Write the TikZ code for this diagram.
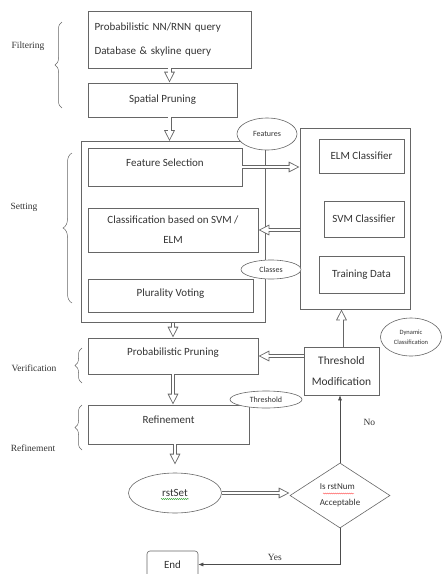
\documentclass[tikz,border=0pt]{standalone}
\usepackage{fontspec}
\setmainfont{Carlito}
\newfontfamily\sidefont{Liberation Serif}
\usetikzlibrary{arrows.meta,shapes.geometric,decorations.pathreplacing,decorations.pathmorphing}
\colorlet{strek}{black!60}
\colorlet{tekst}{black!80}
\begin{document}
\begin{tikzpicture}[x=1pt, y=-1pt,
  flowbox/.style={draw=strek, line width=0.6pt, inner sep=0pt, text=tekst, font=\fontsize{11}{20}\selectfont},
  raised/.style={text depth=#1},
  bubble/.style={ellipse, draw=strek, line width=0.6pt, fill=white, inner sep=0pt, text=tekst},
  sidelabel/.style={text=tekst, font=\sidefont\fontsize{9.5}{11}\selectfont},
  sidebrace/.style={draw=strek, line width=0.5pt, decorate, decoration={brace, amplitude=#1}},
  hollowarrow/.style={draw=strek, line width=4pt, -{Triangle[length=11pt, width=10pt]},
    postaction={draw=white, line width=2.4pt, -{Triangle[length=8.3pt, width=7.5pt]}, shorten >=1.9pt}},
  thinarrow/.style={draw=black!70, line width=0.6pt, -{Latex[length=5pt, width=4pt]}}]
  \useasboundingbox (0,0) rectangle (445,574);

  % filtrering
  \node[flowbox, minimum width=163pt, minimum height=57pt, text width=150pt, align=left,
        font=\fontsize{11}{24}\selectfont] (query) at (169.5,39.5)
        {Probabilistic NN/RNN query\\Database \& skyline query};
  \node[flowbox, minimum width=149pt, minimum height=34pt] (spatial) at (162.5,100) {Spatial Pruning};

  % oppsett: venstre ramme og klassifikatorer
  \node[flowbox, minimum width=184pt, minimum height=181pt] (setting) at (173,232) {};
  \node[flowbox, raised=9pt, minimum width=154pt, minimum height=38pt] (featsel) at (165,167) {Feature Selection};
  \node[flowbox, minimum width=170pt, minimum height=44pt, align=center] (classif) at (173,230)
        {Classification based on SVM /\\ELM};
  \node[flowbox, raised=6pt, minimum width=165pt, minimum height=33pt] (voting) at (170.5,295.5) {Plurality Voting};

  \node[flowbox, minimum width=110pt, minimum height=181pt] (classifiers) at (355,218.5) {};
  \node[flowbox, minimum width=85pt, minimum height=34pt] (elm) at (361.5,156) {ELM Classifier};
  \node[flowbox, minimum width=80pt, minimum height=36pt] (svm) at (364,219) {SVM Classifier};
  \node[flowbox, minimum width=85pt, minimum height=37pt] (train) at (361.5,274.5) {Training Data};

  \node[bubble, minimum width=60pt, minimum height=32pt, font=\fontsize{8}{9}\selectfont] (features) at (267,134) {Features};
  \node[bubble, minimum width=60pt, minimum height=19pt, font=\fontsize{8}{9}\selectfont] (classes) at (271,269.5) {Classes};

  % verifisering og forfining
  \node[flowbox, raised=9pt, minimum width=170pt, minimum height=36pt] (probprun) at (173,356) {Probabilistic Pruning};
  \node[flowbox, minimum width=75pt, minimum height=48pt, align=center,
        font=\fontsize{11.5}{21}\selectfont] (thrmod) at (341.5,371) {Threshold\\Modification};
  \node[bubble, minimum width=61pt, minimum height=38pt, align=center,
        font=\fontsize{6.5}{10}\selectfont] (dynamic) at (411,337) {Dynamic\\Classification};
  \node[flowbox, raised=10pt, minimum width=161pt, minimum height=39pt] (refine) at (168.5,424.5) {Refinement};
  \node[bubble, minimum width=72pt, minimum height=17pt, font=\fontsize{8}{9}\selectfont] (threshold) at (266,399.5) {Threshold};

  \node[bubble, minimum width=93pt, minimum height=40pt, font=\fontsize{11}{13}\selectfont] (rstset) at (175,493) {rstSet};
  \node[diamond, draw=strek, line width=0.6pt, aspect=1.54, minimum width=100pt, minimum height=65pt,
        inner sep=0pt, align=left, text=tekst, font=\fontsize{9}{16}\selectfont] (accept) at (340,495.5)
        {Is rstNum\\Acceptable};
  \node[flowbox, rounded corners=3pt, minimum width=51pt, minimum height=27pt] (stop) at (172.5,564.5) {End};

  % stavekontroll-streker
  \draw[green!55!black, line width=0.4pt, decorate, decoration={snake, amplitude=0.5pt, segment length=2pt}]
    ([xshift=-14pt, yshift=-6pt]rstset.center) -- ([xshift=14pt, yshift=-6pt]rstset.center);
  \draw[red!70, line width=0.4pt, decorate, decoration={snake, amplitude=0.5pt, segment length=2pt}]
    ([xshift=-17pt, yshift=2pt]accept.center) -- ([xshift=14pt, yshift=2pt]accept.center);

  % fasenavn med klammer
  \node[sidelabel] (filtering) at (28,46) {Filtering};
  \node[sidelabel] (settinglbl) at (24,207) {Setting};
  \node[sidelabel] (verif) at (34,368) {Verification};
  \node[sidelabel] (refinelbl) at (33,448) {Refinement};
  \draw[sidebrace=7pt] (62,108) -- (62,22);
  \draw[sidebrace=9pt] (72,303) -- (72,153);
  \draw[sidebrace=7pt] (82,383) -- (82,348);
  \draw[sidebrace=7pt] (82,450) -- (82,405);

  % piler
  \draw[hollowarrow] (query.south) -- (query.south |- spatial.north);
  \draw[hollowarrow] (query.south |- spatial.south) -- (query.south |- setting.north);
  \draw[hollowarrow] (featsel.east) -- (featsel.east -| classifiers.west);
  \draw[hollowarrow] (classif.east -| classifiers.west) -- (classif.east);
  \draw[hollowarrow] (setting.south) -- (setting.south |- probprun.north);
  \draw[hollowarrow] (thrmod.west |- probprun.east) -- (probprun.east);
  \draw[hollowarrow] (thrmod.north) -- (thrmod.north |- classifiers.south);
  \draw[hollowarrow] (probprun.south) -- (probprun.south |- refine.north);
  \draw[hollowarrow] (refine.south -| rstset.north) -- ([yshift=8pt]rstset.north);
  \draw[hollowarrow] (rstset.east) -- (rstset.east -| accept.west);

  \draw[thinarrow] (accept.north) -- (accept.north |- thrmod.south)
    node[sidelabel, pos=0.6, anchor=west, xshift=20pt] (no) {No};
  \draw[thinarrow] (accept.south) |- (stop.east)
    node[sidelabel, pos=0.73, anchor=south] (yes) {Yes};
\end{tikzpicture}
\end{document}
